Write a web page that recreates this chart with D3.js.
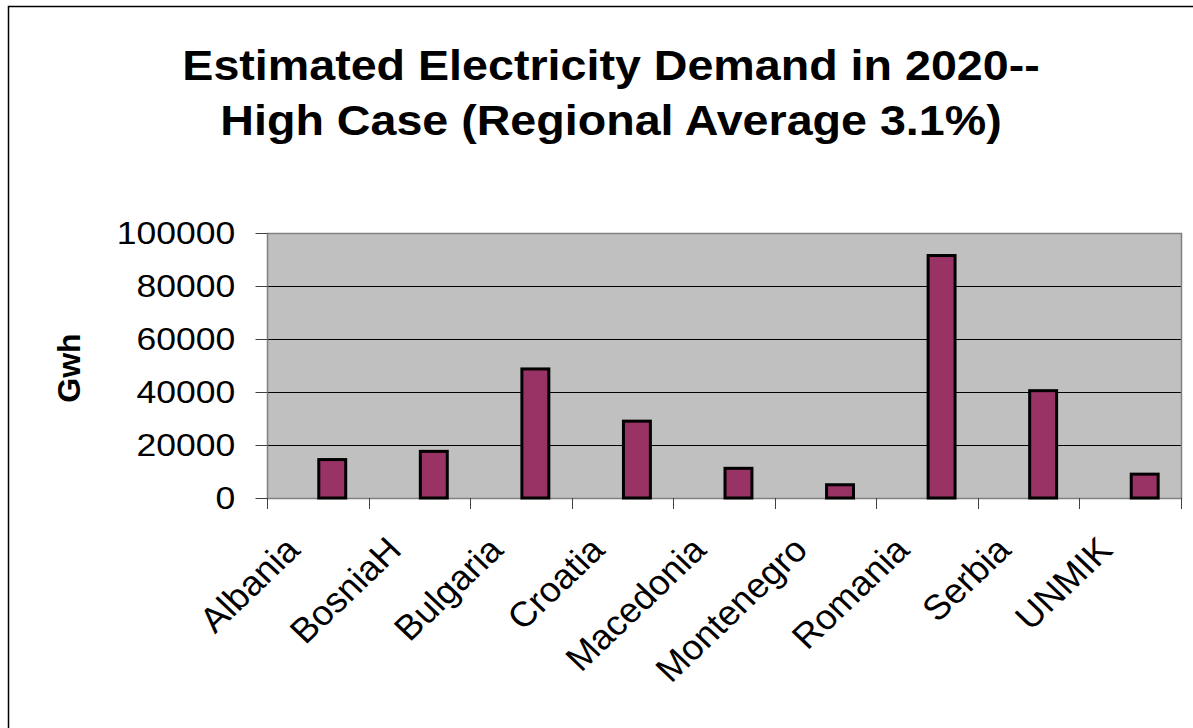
<!DOCTYPE html>
<html>
<head>
<meta charset="utf-8">
<script src="https://cdn.jsdelivr.net/npm/d3@7"></script>
<style>
  html, body { margin: 0; padding: 0; background: #fff; }
  svg { display: block; }
  text { font-family: "Liberation Sans", Arial, sans-serif; fill: #000; }
</style>
</head>
<body>
<svg id="chart" width="1193" height="728"></svg>
<script>
const categories = ["Albania", "BosniaH", "Bulgaria", "Croatia", "Macedonia", "Montenegro", "Romania", "Serbia", "UNMIK"];
const demand = [14500, 17600, 48700, 29000, 11200, 5000, 91500, 40500, 9000];
const yTicks = [0, 20000, 40000, 60000, 80000, 100000];
const titleLines = ["Estimated Electricity Demand in 2020--", "High Case (Regional Average 3.1%)"];
const yLabel = "Gwh";

const W = 1193, H = 728;
const plot = { left: 267, top: 233, right: 1181, bottom: 498 };
const stretch = 1.11; // the reference text is drawn slightly wide
const svg = d3.select("#chart");

// outer chart border
svg.append("rect").attr("x", 8.5).attr("y", 6.5).attr("width", 1200).attr("height", 800)
  .attr("fill", "#fff").attr("stroke", "#000").attr("stroke-width", 1.5);

const x = d3.scaleBand().domain(categories).range([plot.left, plot.right]).padding(0);
const y = d3.scaleLinear().domain([0, 100000]).range([plot.bottom, plot.top]);

// plot background
svg.append("rect").attr("x", plot.left).attr("y", plot.top)
  .attr("width", plot.right - plot.left).attr("height", plot.bottom - plot.top)
  .attr("fill", "#c0c0c0");

// gridlines
svg.append("g").selectAll("line").data(yTicks.filter(d => d > 0 && d < 100000)).join("line")
  .attr("x1", plot.left).attr("x2", plot.right)
  .attr("y1", d => Math.round(y(d)) + 0.5).attr("y2", d => Math.round(y(d)) + 0.5)
  .attr("stroke", "#000").attr("stroke-width", 1);

// plot border
svg.append("rect").attr("x", plot.left + 0.5).attr("y", plot.top + 0.5)
  .attr("width", plot.right - plot.left).attr("height", plot.bottom - plot.top)
  .attr("fill", "none").attr("stroke", "#808080").attr("stroke-width", 1.5);

// bars (Excel layout: bar sits just right of the category centre)
const barW = x.bandwidth() * 0.285;
svg.append("g").selectAll("rect").data(categories).join("rect")
  .attr("x", (d) => x(d) + x.bandwidth() / 2 + 1)
  .attr("y", (d, i) => y(demand[i]))
  .attr("width", barW - 2)
  .attr("height", (d, i) => y(0) - y(demand[i]))
  .attr("fill", "#993366").attr("stroke", "#000").attr("stroke-width", 3);

// y axis
const yAxis = d3.axisLeft(y).tickValues(yTicks).tickSize(12).tickPadding(17).tickFormat(d3.format("d"));
const gy = svg.append("g").attr("transform", `translate(${plot.left + 0.5},0)`).call(yAxis);
gy.select(".domain").remove();
gy.selectAll(".tick line").attr("stroke", "#404040");
gy.selectAll(".tick text").attr("font-size", 32).attr("font-family", "Liberation Sans, Arial, sans-serif")
  .attr("fill", "#000").attr("transform", `scale(${stretch},1)`);

// x axis ticks (category boundaries)
const bounds = categories.map(c => x(c)).concat([plot.right]);
svg.append("g").selectAll("line").data(bounds).join("line")
  .attr("x1", d => Math.round(d) + 0.5).attr("x2", d => Math.round(d) + 0.5)
  .attr("y1", plot.bottom).attr("y2", plot.bottom + 11)
  .attr("stroke", "#404040");

// x labels rotated
svg.append("g").selectAll("text").data(categories).join("text")
  .attr("transform", d => `translate(${x(d) + x.bandwidth() / 2 - 16},552) scale(1.05,1) rotate(-45)`)
  .attr("text-anchor", "end")
  .attr("font-size", 35)
  .text(d => d);

// y label
svg.append("text")
  .attr("transform", "translate(80,368) rotate(-90)")
  .attr("text-anchor", "middle")
  .attr("font-size", 32).attr("font-weight", "bold")
  .text(yLabel);

// title
svg.append("g").selectAll("text").data(titleLines).join("text")
  .attr("transform", (d, i) => `translate(611,${80 + i * 55}) scale(${stretch},1)`)
  .attr("text-anchor", "middle")
  .attr("font-size", 42).attr("font-weight", "bold")
  .text(d => d);
</script>
</body>
</html>
